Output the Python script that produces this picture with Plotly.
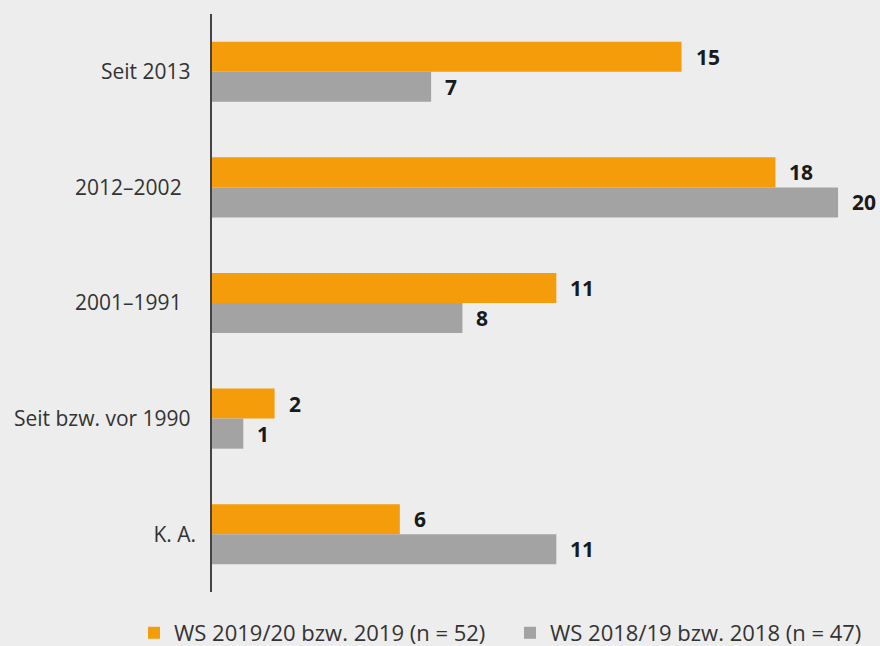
import plotly.graph_objects as go

categories = ["Seit 2013", "2012–2002", "2001–1991", "Seit bzw. vor 1990", "K. A."]
tick_labels = ["Seit 2013\u00a0", "2012–2002\u00a0\u00a0\u2009", "2001–1991\u00a0\u00a0\u2009",
               "Seit bzw. vor 1990\u00a0", "K. A."]
ws_2019 = [15, 18, 11, 2, 6]
ws_2018 = [7, 20, 8, 1, 11]
name_2019 = "WS 2019/20 bzw. 2019 (n = 52)"
name_2018 = "WS 2018/19 bzw. 2018 (n = 47)"

ORANGE = "#f59c0a"
GRAY = "#a3a3a3"
BG = "#ededed"
FONT = "Open Sans"

fig = go.Figure()
fig.add_trace(go.Bar(y=categories, x=ws_2019, orientation="h", name=name_2019,
                     marker=dict(color=ORANGE, line=dict(width=0)), legend="legend"))
fig.add_trace(go.Bar(y=categories, x=ws_2018, orientation="h", name=name_2018,
                     marker=dict(color=GRAY, line=dict(width=0)), legend="legend2"))

annotations = []
for series, off in ((ws_2019, -0.13), (ws_2018, 0.13)):
    for i, v in enumerate(series):
        annotations.append(dict(
            x=v, y=i + off, xref="x", yref="y", text=f"<b>{v}</b>",
            showarrow=False, xanchor="left", yanchor="middle", xshift=12,
            font=dict(family=FONT, size=21, color="#1a1a1a")))

legend_common = dict(orientation="h", xref="container", yref="paper",
                     y=-0.0709, xanchor="left", yanchor="middle",
                     font=dict(family=FONT, size=22, color="#333333"),
                     itemwidth=30, bgcolor="rgba(0,0,0,0)")

fig.update_layout(
    width=880, height=646,
    paper_bgcolor=BG, plot_bgcolor=BG,
    margin=dict(l=212, r=0, t=14, b=54, autoexpand=False),
    barmode="group", bargap=0.48, bargroupgap=0,
    font=dict(family=FONT, size=21, color="#333333"),
    xaxis=dict(range=[0, 21.34], showgrid=False, zeroline=False, showticklabels=False,
               showline=False, fixedrange=True),
    yaxis=dict(autorange="reversed", showgrid=False, zeroline=False,
               showline=True, linecolor="#444444", linewidth=1.5,
               ticks="", ticklabelstandoff=10, fixedrange=True,
               tickmode="array", tickvals=categories, ticktext=tick_labels,
               tickfont=dict(family=FONT, size=21, color="#333333")),
    legend=dict(x=134 / 880, **legend_common),
    legend2=dict(x=510 / 880, **legend_common),
    annotations=annotations,
    showlegend=True,
)

fig.write_html("out.html", config={"displayModeBar": False},
               post_script="document.body.style.margin='0';")
